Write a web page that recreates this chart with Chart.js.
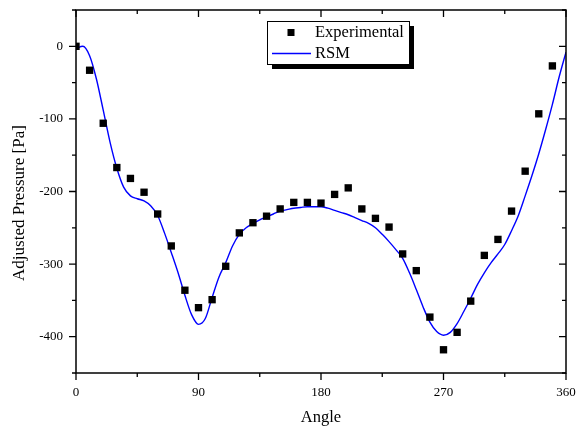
<!DOCTYPE html>
<html>
<head>
<meta charset="utf-8">
<script src="https://cdn.jsdelivr.net/npm/chart.js@4.4.0/dist/chart.umd.min.js"></script>
<style>
  html, body { margin: 0; padding: 0; background: #fff; }
  #wrap { width: 584px; height: 430px; }
</style>
</head>
<body>
<div id="wrap"><canvas id="pressureChart"></canvas></div>
<script>
// measured points, every 10 degrees
var expAngles = [0, 10, 20, 30, 40, 50, 60, 70, 80, 90, 100, 110, 120, 130, 140, 150, 160, 170,
	180, 190, 200, 210, 220, 230, 240, 250, 260, 270, 280, 290, 300, 310, 320, 330, 340, 350];
var expPressure = [0, -33, -106, -167, -182, -201, -231, -275, -336, -360, -349, -303, -257, -243, -234, -224, -215, -215,
	-216, -204, -195, -224, -237, -249, -286, -309, -373, -418, -394, -351, -288, -266, -227, -172, -93, -27];

// response surface model curve
var rsmAngles = [0, 5, 10, 15, 20, 25, 30, 35, 40, 45, 50, 55, 60, 65, 70, 75, 80, 85, 90, 95, 100, 105, 110, 115, 120,
	125, 130, 135, 140, 145, 150, 155, 160, 165, 170, 175, 180, 185, 190, 195, 200, 205, 210, 215, 220, 225, 230, 235, 240,
	245, 250, 255, 260, 265, 270, 275, 280, 285, 290, 295, 300, 305, 310, 315, 320, 325, 330, 335, 340, 345, 350, 355, 360];
var rsmPressure = [-3, 0, -13, -45, -88, -132, -168, -194, -206, -210, -213, -220, -233, -257, -284, -312, -343, -370, -383, -375, -346, -318, -298, -275, -259,
	-250, -244, -239, -235, -231, -227, -225, -223, -222, -221, -221, -221, -223, -226, -229, -232, -236, -240, -244, -250, -259, -269, -280, -292,
	-312, -335, -359, -380, -393, -398, -394, -382, -365, -347, -328, -312, -298, -286, -273, -254, -233, -206, -178, -148, -115, -80, -42, -8];

var xTickLabels = [0, 90, 180, 270, 360];
var yTickLabels = [0, -100, -200, -300, -400];

var toPoints = function (xs, ys) {
	return xs.map(function (x, i) { return { x: x, y: ys[i] }; });
};

var serif = '"Liberation Serif", "Times New Roman", serif';

// box frame plus tick marks on all four sides (mirrored ones point inward)
var frameTicks = {
	id: 'frameTicks',
	afterDraw: function (chart) {
		var ctx = chart.ctx, a = chart.chartArea;
		var xs = chart.scales.x, ys = chart.scales.y;
		ctx.save();
		ctx.strokeStyle = '#000';
		ctx.lineWidth = 1.5;
		ctx.strokeRect(a.left, a.top, a.right - a.left, a.bottom - a.top);
		ctx.lineWidth = 1.3;
		ctx.beginPath();
		xs.ticks.forEach(function (t) {
			var px = xs.getPixelForValue(t.value);
			var len = xTickLabels.indexOf(t.value) >= 0 ? 7 : 4;
			ctx.moveTo(px, a.bottom);
			ctx.lineTo(px, a.bottom + len);
			ctx.moveTo(px, a.top);
			ctx.lineTo(px, a.top + len);
		});
		ys.ticks.forEach(function (t) {
			var py = ys.getPixelForValue(t.value);
			var len = yTickLabels.indexOf(t.value) >= 0 ? 7 : 4;
			ctx.moveTo(a.left, py);
			ctx.lineTo(a.left - len, py);
			ctx.moveTo(a.right, py);
			ctx.lineTo(a.right - len, py);
		});
		ctx.stroke();

		// axis titles
		ctx.fillStyle = '#000';
		ctx.textAlign = 'center';
		ctx.textBaseline = 'middle';
		ctx.font = '16.5px ' + serif;
		ctx.fillText('Angle', 321, 418);
		ctx.translate(20, 203);
		ctx.rotate(-Math.PI / 2);
		ctx.font = '17px ' + serif;
		ctx.fillText('Adjusted Pressure [Pa]', 0, 0);
		ctx.restore();
	}
};

// legend box with a drop shadow
var boxLegend = {
	id: 'boxLegend',
	afterDatasetsDraw: function (chart) {
		var ctx = chart.ctx;
		var bx = 267, by = 21, bw = 142, bh = 43;
		ctx.save();
		ctx.fillStyle = '#000';
		ctx.fillRect(bx + 5, by + 5, bw, bh);
		ctx.fillStyle = '#fff';
		ctx.fillRect(bx, by, bw, bh);
		ctx.strokeStyle = '#000';
		ctx.lineWidth = 1;
		ctx.strokeRect(bx + 0.5, by + 0.5, bw, bh);

		ctx.fillStyle = '#000';
		ctx.fillRect(287.5, 29, 7, 7);
		ctx.strokeStyle = '#0000ff';
		ctx.lineWidth = 1.3;
		ctx.beginPath();
		ctx.moveTo(272, 53.5);
		ctx.lineTo(311, 53.5);
		ctx.stroke();

		ctx.font = '16.5px ' + serif;
		ctx.textAlign = 'left';
		ctx.textBaseline = 'middle';
		ctx.fillText('Experimental', 315, 33);
		ctx.fillText('RSM', 315, 54);
		ctx.restore();
	}
};

var ctx = document.getElementById('pressureChart');
var pressureChart = new Chart(ctx, {
	type: 'scatter',
	data: {
		datasets: [
			{
				label: 'Experimental',
				data: toPoints(expAngles, expPressure),
				pointStyle: 'rect',
				pointRadius: 5.2,
				pointBackgroundColor: '#000',
				pointBorderWidth: 0,
				order: 1
			},
			{
				label: 'RSM',
				data: toPoints(rsmAngles, rsmPressure),
				showLine: true,
				borderColor: '#0000ff',
				borderWidth: 1.4,
				pointRadius: 0,
				cubicInterpolationMode: 'monotone',
				order: 2
			}
		]
	},
	plugins: [frameTicks, boxLegend],
	options: {
		responsive: true,
		maintainAspectRatio: false,
		animation: false,
		layout: { padding: { top: 10, right: 18, left: 0, bottom: 0 } },
		plugins: {
			legend: { display: false },
			tooltip: { enabled: false }
		},
		scales: {
			x: {
				type: 'linear',
				min: 0,
				max: 360,
				grid: { display: false },
				border: { display: false },
				afterFit: function (s) {
					s.height = 57;
					s.paddingLeft = 0;
					s.paddingRight = 0;
				},
				ticks: {
					stepSize: 45,
					autoSkip: false,
					maxRotation: 0,
					padding: 4,
					color: '#000',
					font: { family: serif, size: 13 },
					callback: function (v) { return xTickLabels.indexOf(v) >= 0 ? v : ''; }
				}
			},
			y: {
				min: -450,
				max: 50,
				grid: { display: false },
				border: { display: false },
				afterFit: function (s) {
					s.width = 76;
					s.paddingTop = 0;
					s.paddingBottom = 0;
				},
				ticks: {
					stepSize: 50,
					autoSkip: false,
					padding: 5,
					color: '#000',
					font: { family: serif, size: 13 },
					callback: function (v) { return yTickLabels.indexOf(v) >= 0 ? v : ''; }
				}
			}
		}
	}
});
</script>
</body>
</html>
